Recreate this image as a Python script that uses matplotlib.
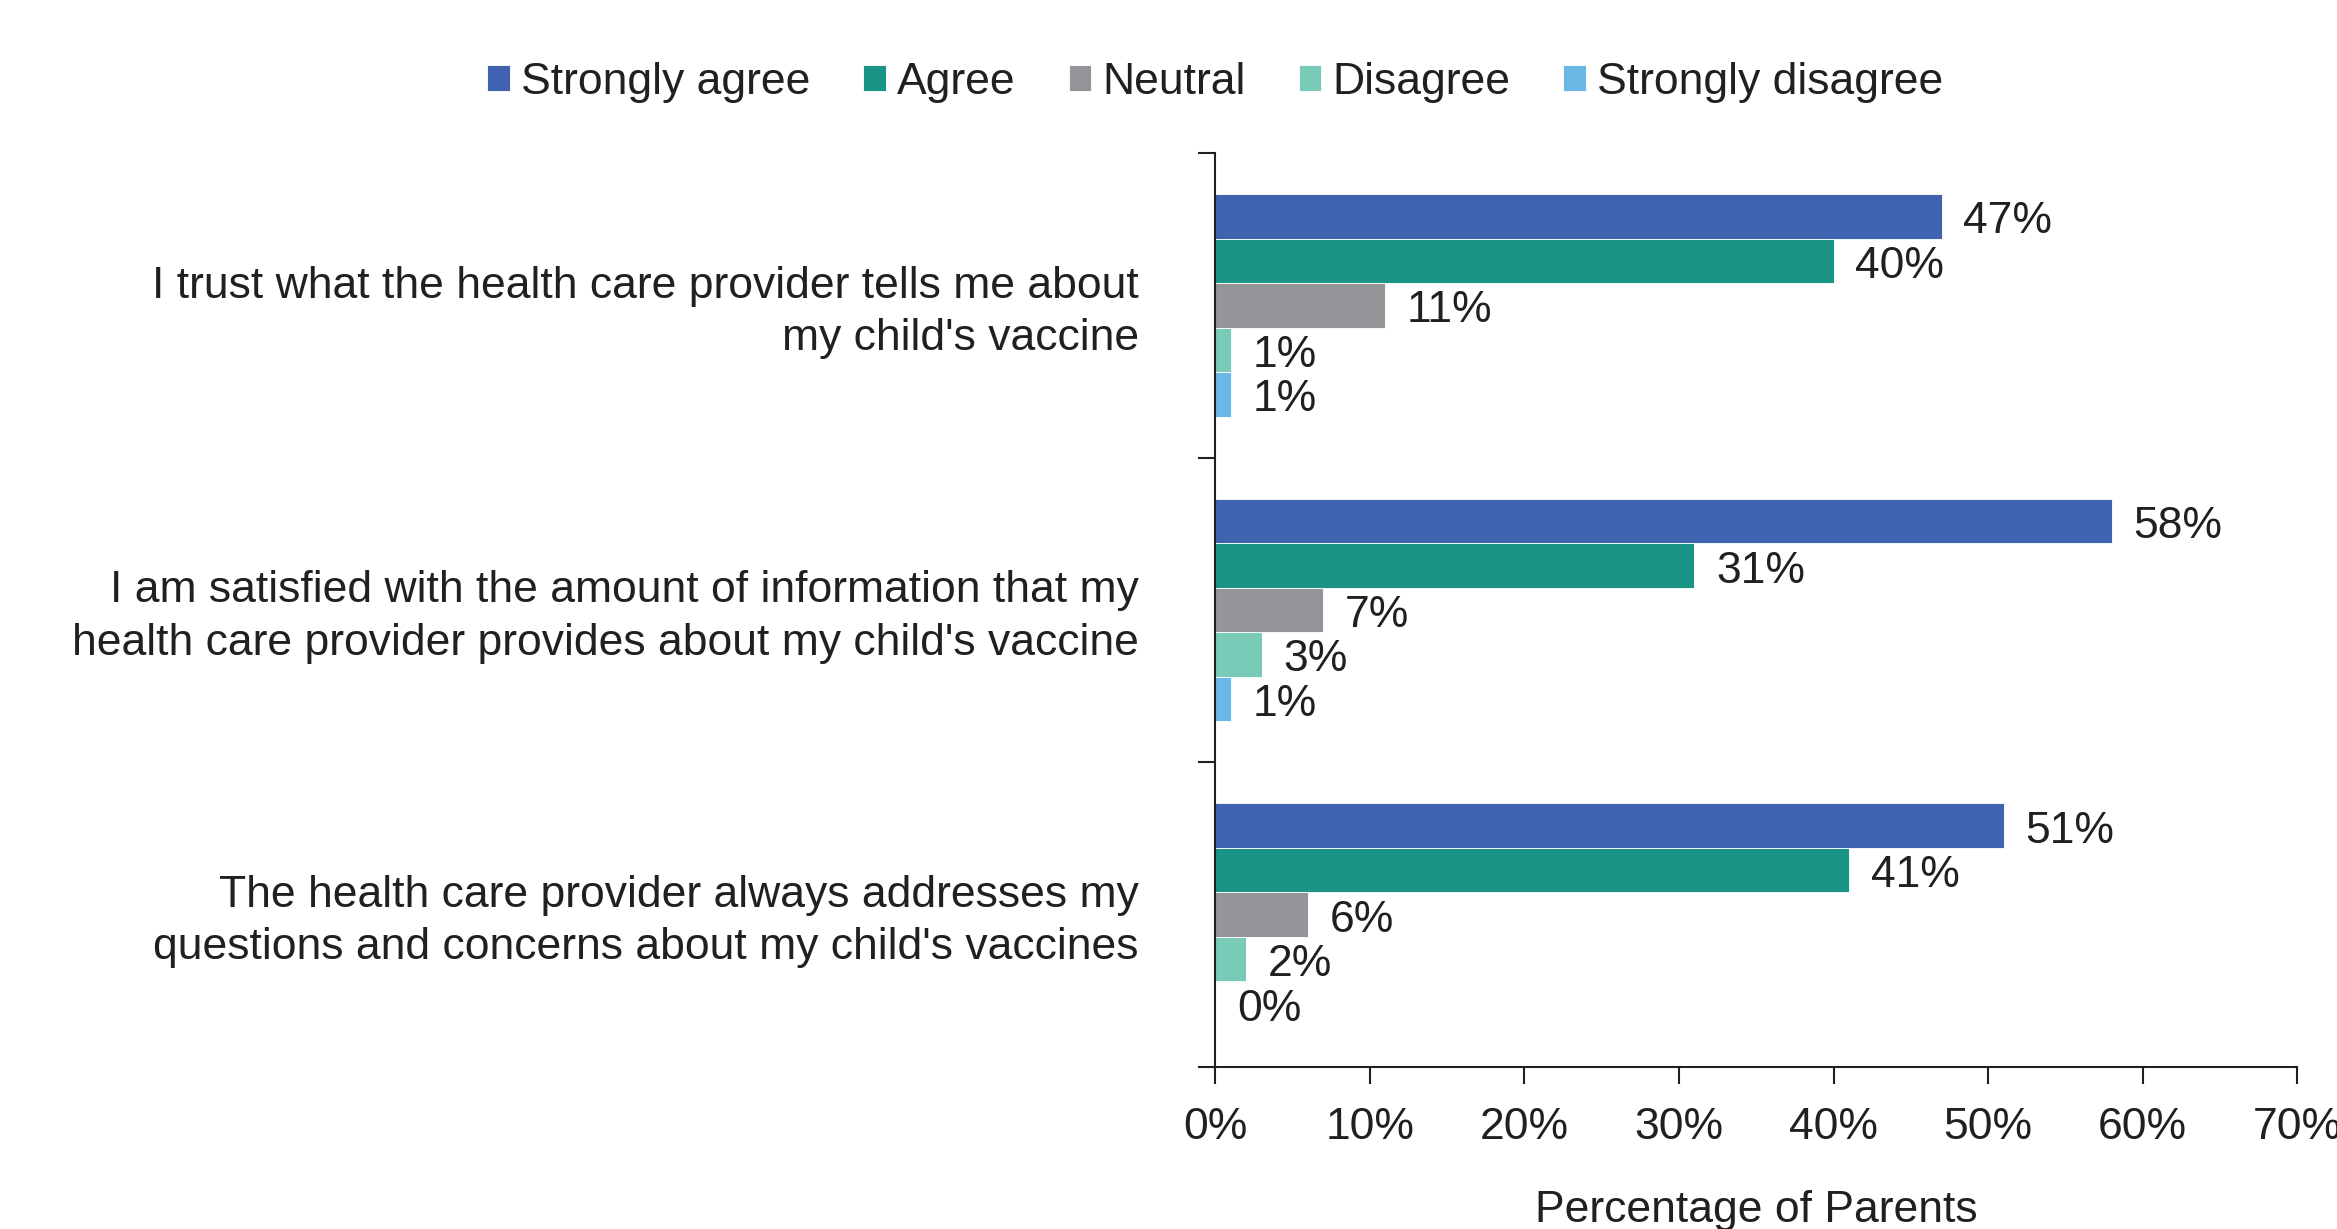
import numpy as np
import matplotlib
matplotlib.use('Agg')
import matplotlib.pyplot as plt
from matplotlib.ticker import FuncFormatter

plt.rcParams['font.family'] = ['Liberation Sans', 'DejaVu Sans']

statements = [
    "I trust what the health care provider tells me about\nmy child's vaccine",
    "I am satisfied with the amount of information that my\nhealth care provider provides about my child's vaccine",
    "The health care provider always addresses my\nquestions and concerns about my child's vaccines",
]
responses = ['Strongly agree', 'Agree', 'Neutral', 'Disagree', 'Strongly disagree']
strongly_agree = [47, 58, 51]
agree = [40, 31, 41]
neutral = [11, 7, 6]
disagree = [1, 3, 2]
strongly_disagree = [1, 1, 0]
colors = ['#3F63AE', '#1A9585', '#939598', '#79CBB8', '#6BB7E5']

series = [strongly_agree, agree, neutral, disagree, strongly_disagree]
txt = '#231F20'
fs = 32

fig = plt.figure(figsize=(23.37, 12.29), dpi=100)
ax = fig.add_axes([0.52, 0.1318, 0.463, 0.7437])

n = len(series)
bar_h = 0.73 / n
y = np.arange(len(statements))
for k, vals in enumerate(series):
    pos = y - 0.365 + bar_h * (k + 0.5)
    ax.barh(pos, vals, height=bar_h, color=colors[k], label=responses[k],
            edgecolor='white', linewidth=0.6)
    for p, v in zip(pos, vals):
        ax.text(v + 1.4, p + 0.018, f'{v}%', va='center', ha='left', fontsize=fs, color=txt)

ax.set_xlim(0, 70)
ax.set_ylim(len(statements) - 0.5, -0.5)
ax.set_xticks(np.arange(0, 71, 10))
ax.xaxis.set_major_formatter(FuncFormatter(lambda v, _: f'{v:.0f}%'))
ax.set_yticks(y - 0.01)
ax.set_yticklabels(statements, fontsize=fs, color=txt, linespacing=1.35)
ax.set_yticks(np.arange(-0.5, len(statements), 1), minor=True)

ax.tick_params(axis='x', length=12, width=1.5, pad=17, labelsize=fs, colors=txt)
ax.tick_params(axis='y', which='major', length=0, pad=55)
ax.tick_params(axis='y', which='minor', length=12, width=1.5, color=txt)

for s in ['top', 'right']:
    ax.spines[s].set_visible(False)
for s in ['left', 'bottom']:
    ax.spines[s].set_linewidth(1.5)
    ax.spines[s].set_color(txt)

ax.set_xlabel('Percentage of Parents', fontsize=fs, color=txt, labelpad=30)

fig.legend(loc='center', bbox_to_anchor=(0.52, 0.933), ncol=5, frameon=False,
           fontsize=fs, handlelength=0.5, handleheight=0.5, handletextpad=0.25,
           columnspacing=1.2, labelcolor=txt)

fig.savefig('out.png', dpi=100)
